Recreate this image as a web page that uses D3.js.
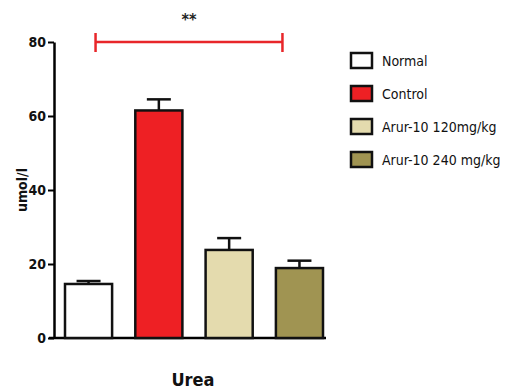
<!DOCTYPE html>
<html>
<head>
<meta charset="utf-8">
<script src="https://cdn.jsdelivr.net/npm/d3@7"></script>
<style>
  body { margin: 0; background: #fff; }
  text { font-family: "DejaVu Sans Condensed", "Liberation Sans Narrow", "Liberation Sans", sans-serif; }
</style>
</head>
<body>
<div class="container"></div>
<script>
const groups = ["Normal", "Control", "Arur-10 120mg/kg", "Arur-10 240 mg/kg"];
const means = [14.6, 61.5, 23.8, 18.9];
const errors = [0.8, 3.0, 3.2, 2.0];
const colors = ["#ffffff", "#ee2024", "#e4dbae", "#a09452"];
const yTicks = [0, 20, 40, 60, 80];

const WIDTH = 513, HEIGHT = 391;
const MARGIN = { top: 42, right: 188, bottom: 53, left: 54 };

const svg = d3.select(".container")
  .append("svg")
  .attr("width", WIDTH)
  .attr("height", HEIGHT);

const x = d3.scaleBand()
  .domain(groups)
  .range([65, 323])
  .paddingInner(0.33)
  .paddingOuter(0);
const y = d3.scaleLinear()
  .domain([0, 80])
  .range([HEIGHT - MARGIN.bottom, MARGIN.top]);

// axes
const yAxis = svg.append("g")
  .attr("transform", `translate(${MARGIN.left},0)`)
  .call(d3.axisLeft(y).tickValues(yTicks).tickSize(6).tickSizeOuter(0).tickPadding(2));
yAxis.select(".domain").attr("stroke-width", 2.5);
yAxis.selectAll(".tick line").attr("stroke-width", 2);
yAxis.selectAll(".tick text")
  .attr("font-size", 14).attr("font-weight", "bold").attr("fill", "#111");

svg.append("line")
  .attr("x1", MARGIN.left - 5).attr("x2", 326)
  .attr("y1", y(0)).attr("y2", y(0))
  .attr("stroke", "#000").attr("stroke-width", 2.5);

// bars
const bars = svg.append("g");
bars.selectAll("line.err")
  .data(groups)
  .join("line")
  .attr("class", "err")
  .attr("x1", d => x(d) + x.bandwidth() / 2)
  .attr("x2", d => x(d) + x.bandwidth() / 2)
  .attr("y1", (d, i) => y(means[i]))
  .attr("y2", (d, i) => y(means[i] + errors[i]))
  .attr("stroke", "#111").attr("stroke-width", 2.5);
bars.selectAll("line.cap")
  .data(groups)
  .join("line")
  .attr("class", "cap")
  .attr("x1", d => x(d) + x.bandwidth() / 2 - 12)
  .attr("x2", d => x(d) + x.bandwidth() / 2 + 12)
  .attr("y1", (d, i) => y(means[i] + errors[i]))
  .attr("y2", (d, i) => y(means[i] + errors[i]))
  .attr("stroke", "#111").attr("stroke-width", 2.5);
bars.selectAll("rect")
  .data(groups)
  .join("rect")
  .attr("x", d => x(d))
  .attr("width", x.bandwidth())
  .attr("y", (d, i) => y(means[i]))
  .attr("height", (d, i) => y(0) - y(means[i]))
  .attr("fill", (d, i) => colors[i])
  .attr("stroke", "#111")
  .attr("stroke-width", 2.5);

// significance bracket
const sx1 = x(groups[0]) + x.bandwidth() / 2 + 7;
const sx2 = x(groups[3]) + x.bandwidth() / 2 - 17;
const sig = svg.append("g").attr("stroke", "#e8262a").attr("stroke-width", 2.5);
sig.append("line").attr("x1", sx1).attr("x2", sx2).attr("y1", y(80)).attr("y2", y(80));
sig.append("line").attr("x1", sx1).attr("x2", sx1).attr("y1", y(80) - 9).attr("y2", y(80) + 10);
sig.append("line").attr("x1", sx2).attr("x2", sx2).attr("y1", y(80) - 9).attr("y2", y(80) + 10);
svg.append("text")
  .attr("x", (sx1 + sx2) / 2).attr("y", 25)
  .attr("text-anchor", "middle")
  .attr("font-size", 16).attr("font-weight", "bold").attr("fill", "#222")
  .text("**");

// axis labels
svg.append("text")
  .attr("transform", `translate(27, 190) rotate(-90)`)
  .attr("text-anchor", "middle")
  .attr("font-size", 14).attr("font-weight", "bold").attr("fill", "#111")
  .text("umol/l");
svg.append("text")
  .attr("x", 193).attr("y", 386)
  .attr("text-anchor", "middle")
  .attr("font-size", 18).attr("font-weight", "bold").attr("fill", "#111")
  .text("Urea");

// legend
const legend = svg.append("g").attr("transform", "translate(351,53)");
const row = legend.selectAll("g")
  .data(groups)
  .join("g")
  .attr("transform", (d, i) => `translate(0, ${i * 33})`);
row.append("rect")
  .attr("width", 21).attr("height", 15)
  .attr("fill", (d, i) => colors[i])
  .attr("stroke", "#111").attr("stroke-width", 2.5);
row.append("text")
  .attr("x", 31).attr("y", 13)
  .attr("font-size", 14).attr("fill", "#111")
  .text(d => d);
</script>
</body>
</html>
